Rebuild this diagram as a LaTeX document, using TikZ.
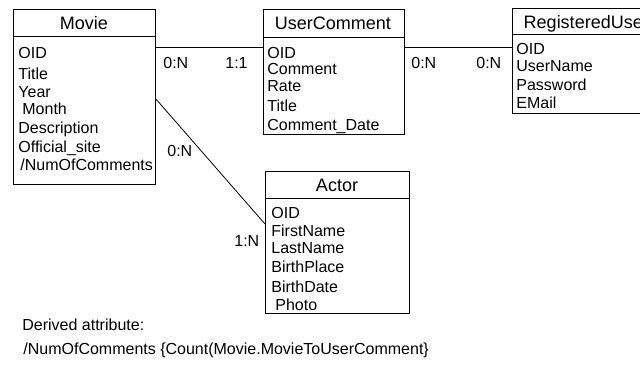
\documentclass[tikz,border=0pt]{standalone}
\usepackage{fontspec}
\setmainfont{Liberation Sans}
\usetikzlibrary{calc,positioning}
\tikzset{entity/.style={draw,line width=0.9pt,anchor=north west,inner sep=0pt},
         head/.style={font=\fontsize{18}{20}\selectfont,anchor=base},
         attr/.style={font=\fontsize{16}{18}\selectfont,anchor=base west,inner sep=0pt},
         note/.style={font=\fontsize{16}{18}\selectfont,anchor=base west,inner sep=0pt}}
\begin{document}
\begin{tikzpicture}[x=1pt,y=-1pt,line width=0.8pt]
                 \useasboundingbox (0,0) rectangle (640,367);
                 \node[entity,minimum width=142pt,minimum height=175pt](movie)at(13,9){};
                 \draw(movie.west|-0,36)--(movie.east|-0,36);
                 \node[head](movieh)at(84,29){Movie};
                 \node[attr](m1)at(18,58){OID};
                 \node[attr](m2)at(18,79){Title};
                 \node[attr](m3)at(18,97){Year};
                 \node[attr](m4)at(22,114){Month};
                 \node[attr](m5)at(18,133){Description};
                 \node[attr](m6)at(18,152){Official\_site};
                 \node[attr](m7)at(20,170){/NumOfComments};
                 \node[entity,minimum width=141pt,minimum height=125pt](uc)at(263,9){};
                 \draw(uc.west|-0,37)--(uc.east|-0,37);
                 \node[head](uch)at(333,29){UserComment};
                 \node[attr](u1)at(267,58){OID};
                 \node[attr](u2)at(267,74){Comment};
                 \node[attr](u3)at(267,91){Rate};
                 \node[attr](u4)at(267,111){Title};
                 \node[attr](u5)at(267,130){Comment\_Date};
                 \node[entity,minimum width=150pt,minimum height=105pt](ru)at(512,8){};
                 \draw(ru.west|-0,34)--(ru.east|-0,34);
                 \node[head,anchor=base west](ruh)at(520,28){RegisteredUser};
                 \node[attr](r1)at(516,54){OID};
                 \node[attr](r2)at(516,71){UserName};
                 \node[attr](r3)at(516,90){Password};
                 \node[attr](r4)at(516,108){EMail};
                 \node[entity,minimum width=144pt,minimum height=142pt](actor)at(265,171){};
                 \draw(actor.west|-0,198)--(actor.east|-0,198);
                 \node[head](actorh)at(337,191){Actor};
                 \node[attr](a1)at(271,218){OID};
                 \node[attr](a2)at(271,236){FirstName};
                 \node[attr](a3)at(271,253){LastName};
                 \node[attr](a4)at(271,272){BirthPlace};
                 \node[attr](a5)at(271,292){BirthDate};
                 \node[attr](a6)at(275,310){Photo};
                 \draw(movie.east|-0,47)--(uc.west|-0,47);
                 \draw(uc.east|-0,47)--(ru.west|-0,47);
                 \draw(movie.east|-0,99)--(actor.west|-0,224);
                 \node[attr](c1)at(163,68){0:N};
                 \node[attr](c2)at(225,68){1:1};
                 \node[attr](c3)at(411,68){0:N};
                 \node[attr](c4)at(476,68){0:N};
                 \node[attr](c5)at(167,156){0:N};
                 \node[attr](c6)at(234,246){1:N};
                 \node[note](n1)at(22,330){Derived attribute:};
                 \node[note](n2)at(23,354){/NumOfComments \{Count(Movie.MovieToUserComment\}};
               \end{tikzpicture}
\end{document}
